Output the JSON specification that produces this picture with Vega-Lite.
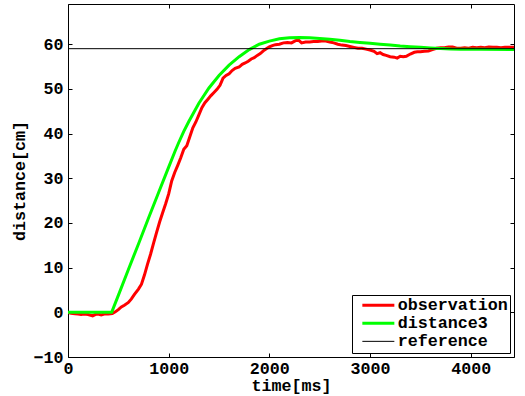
{
  "$schema": "https://vega.github.io/schema/vega-lite/v6.json",
  "width": 446,
  "height": 353,
  "autosize": {"type": "none"},
  "padding": {"left": 68, "top": 4, "right": 11, "bottom": 39},
  "background": "white",
  "config": {
    "view": {"stroke": "black", "strokeWidth": 1},
    "axis": {
      "grid": false,
      "domain": false,
      "ticks": true,
      "tickColor": "black",
      "tickWidth": 1,
      "labelColor": "black",
      "titleColor": "black",
      "labelFont": "Liberation Mono",
      "labelFontWeight": "bold",
      "labelFontSize": 16.7,
      "titleFont": "Liberation Mono",
      "titleFontWeight": "bold",
      "titleFontSize": 16.7,
      "tickSize": 4,
      "offset": -4,
      "labelFlush": false,
      "labelOverlap": false,
      "format": "d"
    },
    "legend": {
      "labelFont": "Liberation Mono",
      "labelFontWeight": "bold",
      "labelFontSize": 16.7,
      "labelColor": "black"
    }
  },
  "data": {
    "values": [
      {"t": 0, "v": 0, "series": "observation"},
      {"t": 30, "v": -0.2, "series": "observation"},
      {"t": 70, "v": -0.3, "series": "observation"},
      {"t": 100, "v": -0.4, "series": "observation"},
      {"t": 130, "v": -0.5, "series": "observation"},
      {"t": 160, "v": -0.4, "series": "observation"},
      {"t": 200, "v": -0.5, "series": "observation"},
      {"t": 245, "v": -0.8, "series": "observation"},
      {"t": 270, "v": -0.5, "series": "observation"},
      {"t": 300, "v": -0.4, "series": "observation"},
      {"t": 330, "v": -0.6, "series": "observation"},
      {"t": 360, "v": -0.4, "series": "observation"},
      {"t": 400, "v": -0.4, "series": "observation"},
      {"t": 440, "v": -0.3, "series": "observation"},
      {"t": 470, "v": 0.1, "series": "observation"},
      {"t": 500, "v": 0.6, "series": "observation"},
      {"t": 530, "v": 1.2, "series": "observation"},
      {"t": 560, "v": 1.6, "series": "observation"},
      {"t": 600, "v": 2.2, "series": "observation"},
      {"t": 630, "v": 3.0, "series": "observation"},
      {"t": 660, "v": 4.0, "series": "observation"},
      {"t": 700, "v": 5.2, "series": "observation"},
      {"t": 730, "v": 6.3, "series": "observation"},
      {"t": 760, "v": 8.4, "series": "observation"},
      {"t": 790, "v": 10.8, "series": "observation"},
      {"t": 820, "v": 13.0, "series": "observation"},
      {"t": 850, "v": 15.5, "series": "observation"},
      {"t": 880, "v": 17.9, "series": "observation"},
      {"t": 910, "v": 20.2, "series": "observation"},
      {"t": 940, "v": 22.3, "series": "observation"},
      {"t": 970, "v": 24.3, "series": "observation"},
      {"t": 1000, "v": 26.5, "series": "observation"},
      {"t": 1030, "v": 29.4, "series": "observation"},
      {"t": 1060, "v": 31.3, "series": "observation"},
      {"t": 1090, "v": 32.9, "series": "observation"},
      {"t": 1120, "v": 34.6, "series": "observation"},
      {"t": 1150, "v": 36.5, "series": "observation"},
      {"t": 1180, "v": 37.3, "series": "observation"},
      {"t": 1210, "v": 39.3, "series": "observation"},
      {"t": 1240, "v": 41.3, "series": "observation"},
      {"t": 1270, "v": 42.6, "series": "observation"},
      {"t": 1300, "v": 44.2, "series": "observation"},
      {"t": 1330, "v": 45.8, "series": "observation"},
      {"t": 1360, "v": 46.9, "series": "observation"},
      {"t": 1390, "v": 47.7, "series": "observation"},
      {"t": 1420, "v": 48.5, "series": "observation"},
      {"t": 1450, "v": 49.2, "series": "observation"},
      {"t": 1480, "v": 49.9, "series": "observation"},
      {"t": 1510, "v": 50.8, "series": "observation"},
      {"t": 1540, "v": 52.4, "series": "observation"},
      {"t": 1570, "v": 53.0, "series": "observation"},
      {"t": 1600, "v": 53.4, "series": "observation"},
      {"t": 1630, "v": 54.1, "series": "observation"},
      {"t": 1660, "v": 54.6, "series": "observation"},
      {"t": 1700, "v": 54.9, "series": "observation"},
      {"t": 1730, "v": 55.5, "series": "observation"},
      {"t": 1760, "v": 55.8, "series": "observation"},
      {"t": 1790, "v": 56.2, "series": "observation"},
      {"t": 1820, "v": 56.7, "series": "observation"},
      {"t": 1850, "v": 57.0, "series": "observation"},
      {"t": 1880, "v": 57.5, "series": "observation"},
      {"t": 1910, "v": 57.9, "series": "observation"},
      {"t": 1940, "v": 58.5, "series": "observation"},
      {"t": 1970, "v": 59.0, "series": "observation"},
      {"t": 2000, "v": 59.4, "series": "observation"},
      {"t": 2030, "v": 59.7, "series": "observation"},
      {"t": 2060, "v": 59.9, "series": "observation"},
      {"t": 2100, "v": 60.0, "series": "observation"},
      {"t": 2140, "v": 60.3, "series": "observation"},
      {"t": 2180, "v": 60.4, "series": "observation"},
      {"t": 2220, "v": 60.3, "series": "observation"},
      {"t": 2260, "v": 60.8, "series": "observation"},
      {"t": 2290, "v": 60.9, "series": "observation"},
      {"t": 2320, "v": 60.3, "series": "observation"},
      {"t": 2360, "v": 60.5, "series": "observation"},
      {"t": 2400, "v": 60.5, "series": "observation"},
      {"t": 2440, "v": 60.6, "series": "observation"},
      {"t": 2480, "v": 60.6, "series": "observation"},
      {"t": 2520, "v": 60.7, "series": "observation"},
      {"t": 2560, "v": 60.7, "series": "observation"},
      {"t": 2600, "v": 60.5, "series": "observation"},
      {"t": 2640, "v": 60.3, "series": "observation"},
      {"t": 2680, "v": 60.0, "series": "observation"},
      {"t": 2720, "v": 59.8, "series": "observation"},
      {"t": 2760, "v": 59.7, "series": "observation"},
      {"t": 2800, "v": 59.5, "series": "observation"},
      {"t": 2840, "v": 59.3, "series": "observation"},
      {"t": 2880, "v": 59.1, "series": "observation"},
      {"t": 2920, "v": 59.1, "series": "observation"},
      {"t": 2960, "v": 58.9, "series": "observation"},
      {"t": 3000, "v": 58.7, "series": "observation"},
      {"t": 3040, "v": 58.4, "series": "observation"},
      {"t": 3070, "v": 57.9, "series": "observation"},
      {"t": 3100, "v": 58.1, "series": "observation"},
      {"t": 3130, "v": 57.7, "series": "observation"},
      {"t": 3160, "v": 57.5, "series": "observation"},
      {"t": 3200, "v": 57.2, "series": "observation"},
      {"t": 3240, "v": 57.1, "series": "observation"},
      {"t": 3270, "v": 56.9, "series": "observation"},
      {"t": 3300, "v": 57.3, "series": "observation"},
      {"t": 3330, "v": 57.2, "series": "observation"},
      {"t": 3360, "v": 57.3, "series": "observation"},
      {"t": 3400, "v": 57.8, "series": "observation"},
      {"t": 3440, "v": 58.2, "series": "observation"},
      {"t": 3470, "v": 58.3, "series": "observation"},
      {"t": 3500, "v": 58.3, "series": "observation"},
      {"t": 3540, "v": 58.4, "series": "observation"},
      {"t": 3580, "v": 58.5, "series": "observation"},
      {"t": 3620, "v": 58.8, "series": "observation"},
      {"t": 3660, "v": 59.1, "series": "observation"},
      {"t": 3700, "v": 59.2, "series": "observation"},
      {"t": 3740, "v": 59.2, "series": "observation"},
      {"t": 3780, "v": 59.4, "series": "observation"},
      {"t": 3820, "v": 59.4, "series": "observation"},
      {"t": 3860, "v": 59.1, "series": "observation"},
      {"t": 3900, "v": 59.1, "series": "observation"},
      {"t": 3940, "v": 59.2, "series": "observation"},
      {"t": 3980, "v": 59.1, "series": "observation"},
      {"t": 4020, "v": 59.3, "series": "observation"},
      {"t": 4060, "v": 59.2, "series": "observation"},
      {"t": 4100, "v": 59.3, "series": "observation"},
      {"t": 4140, "v": 59.2, "series": "observation"},
      {"t": 4180, "v": 59.4, "series": "observation"},
      {"t": 4220, "v": 59.3, "series": "observation"},
      {"t": 4260, "v": 59.3, "series": "observation"},
      {"t": 4300, "v": 59.2, "series": "observation"},
      {"t": 4340, "v": 59.3, "series": "observation"},
      {"t": 4380, "v": 59.3, "series": "observation"},
      {"t": 4430, "v": 59.3, "series": "observation"},
      {"t": 0, "v": 0, "series": "distance3"},
      {"t": 434, "v": 0, "series": "distance3"},
      {"t": 500, "v": 3.8, "series": "distance3"},
      {"t": 600, "v": 9.6, "series": "distance3"},
      {"t": 700, "v": 15.3, "series": "distance3"},
      {"t": 800, "v": 21.1, "series": "distance3"},
      {"t": 900, "v": 26.8, "series": "distance3"},
      {"t": 1000, "v": 32.5, "series": "distance3"},
      {"t": 1064, "v": 36.1, "series": "distance3"},
      {"t": 1100, "v": 38.0, "series": "distance3"},
      {"t": 1150, "v": 40.5, "series": "distance3"},
      {"t": 1200, "v": 42.7, "series": "distance3"},
      {"t": 1300, "v": 46.8, "series": "distance3"},
      {"t": 1400, "v": 50.2, "series": "distance3"},
      {"t": 1500, "v": 53.0, "series": "distance3"},
      {"t": 1600, "v": 55.3, "series": "distance3"},
      {"t": 1700, "v": 57.2, "series": "distance3"},
      {"t": 1800, "v": 58.8, "series": "distance3"},
      {"t": 1900, "v": 60.0, "series": "distance3"},
      {"t": 2000, "v": 60.7, "series": "distance3"},
      {"t": 2100, "v": 61.2, "series": "distance3"},
      {"t": 2200, "v": 61.45, "series": "distance3"},
      {"t": 2300, "v": 61.5, "series": "distance3"},
      {"t": 2400, "v": 61.45, "series": "distance3"},
      {"t": 2500, "v": 61.3, "series": "distance3"},
      {"t": 2600, "v": 61.1, "series": "distance3"},
      {"t": 2700, "v": 60.9, "series": "distance3"},
      {"t": 2800, "v": 60.6, "series": "distance3"},
      {"t": 2900, "v": 60.4, "series": "distance3"},
      {"t": 3000, "v": 60.2, "series": "distance3"},
      {"t": 3100, "v": 60.0, "series": "distance3"},
      {"t": 3200, "v": 59.8, "series": "distance3"},
      {"t": 3300, "v": 59.6, "series": "distance3"},
      {"t": 3400, "v": 59.45, "series": "distance3"},
      {"t": 3500, "v": 59.3, "series": "distance3"},
      {"t": 3600, "v": 59.15, "series": "distance3"},
      {"t": 3700, "v": 59.05, "series": "distance3"},
      {"t": 3800, "v": 58.95, "series": "distance3"},
      {"t": 3900, "v": 58.9, "series": "distance3"},
      {"t": 4100, "v": 58.85, "series": "distance3"},
      {"t": 4430, "v": 58.8, "series": "distance3"},
      {"t": 0, "v": 59, "series": "reference"},
      {"t": 4430, "v": 59, "series": "reference"}
    ]
  },
  "layer": [
    {
      "transform": [{"filter": "datum.series !== 'reference'"}],
      "mark": {"type": "line", "clip": true, "strokeWidth": 3},
      "encoding": {
        "x": {
          "field": "t", "type": "quantitative",
          "scale": {"domain": [0, 4430], "nice": false, "zero": false},
          "axis": {"orient": "bottom", "values": [0, 1000, 2000, 3000, 4000], "title": "time[ms]", "labelPadding": 3, "titlePadding": 1}
        },
        "y": {
          "field": "v", "type": "quantitative",
          "scale": {"domain": [-10, 69], "nice": false, "zero": false},
          "axis": {"orient": "left", "values": [-10, 0, 10, 20, 30, 40, 50, 60], "title": "distance[cm]", "labelPadding": 5, "titlePadding": 4}
        },
        "color": {
          "field": "series", "type": "nominal",
          "scale": {"domain": ["observation", "distance3", "reference"], "range": ["#ff0000", "#00ff00", "#000000"]},
          "legend": {
            "title": null, "orient": "bottom-right", "offset": 4,
            "symbolType": "M0,0H8", "symbolSize": 64, "symbolStrokeWidth": 3,
            "strokeColor": "black", "fillColor": "white", "padding": 2,
            "rowPadding": 0, "labelOffset": 27, "cornerRadius": 0,
            "encode": {"symbols": {"update": {"strokeWidth": {"signal": "datum.value === 'reference' ? 1 : 3"}}}}
          }
        },
        "order": {"field": "t", "type": "quantitative"}
      }
    },
    {
      "transform": [{"filter": "datum.series === 'reference'"}],
      "mark": {"type": "line", "strokeWidth": 1},
      "encoding": {
        "x": {
          "field": "t", "type": "quantitative",
          "axis": {"orient": "top", "values": [0, 1000, 2000, 3000, 4000], "labels": false, "title": null}
        },
        "y": {
          "field": "v", "type": "quantitative",
          "axis": {"orient": "right", "values": [-10, 0, 10, 20, 30, 40, 50, 60], "labels": false, "title": null}
        },
        "color": {"field": "series", "type": "nominal"}
      }
    }
  ],
  "resolve": {"axis": {"x": "independent", "y": "independent"}}
}
